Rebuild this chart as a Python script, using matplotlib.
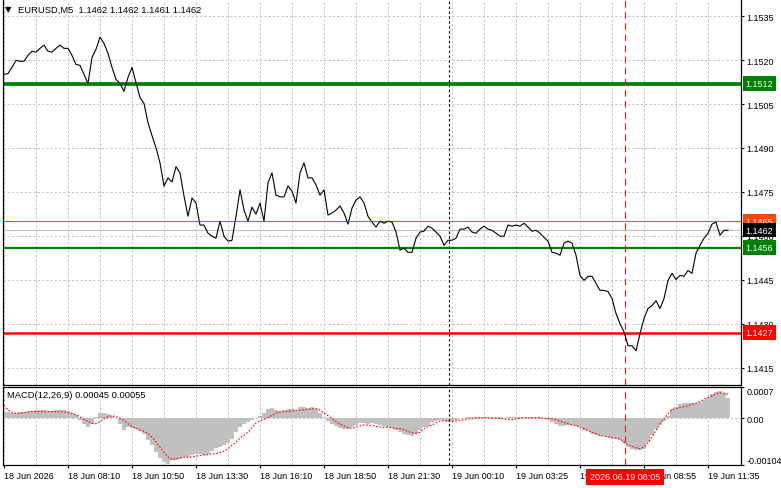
import matplotlib
matplotlib.use('Agg')
import matplotlib.pyplot as plt
import matplotlib.transforms as mtransforms

plt.rcParams['font.family'] = ['Liberation Sans', 'DejaVu Sans']

# EURUSD M5 close, one point every second bar
close = [
    1.15151, 1.15154, 1.15175, 1.15199, 1.15196, 1.15196, 1.15216, 1.15230, 1.15227, 1.15240,
    1.15251, 1.15230, 1.15227, 1.15240, 1.15251, 1.15240, 1.15240, 1.15216, 1.15185, 1.15182,
    1.15151, 1.15120, 1.15209, 1.15237, 1.15278, 1.15257, 1.15223, 1.15175, 1.15134, 1.15120,
    1.15093, 1.15141, 1.15175, 1.15124, 1.15072, 1.15052, 1.14986, 1.14942, 1.14901, 1.14849,
    1.14770, 1.14798, 1.14784, 1.14836, 1.14815, 1.14736, 1.14667, 1.14729, 1.14712, 1.14637,
    1.14637, 1.14609, 1.14599, 1.14592, 1.14650, 1.14599, 1.14582, 1.14585, 1.14667, 1.14757,
    1.14688, 1.14650, 1.14698, 1.14674, 1.14712, 1.14650, 1.14781, 1.14815, 1.14739, 1.14733,
    1.14733, 1.14770, 1.14753, 1.14712, 1.14815, 1.14849, 1.14798, 1.14798, 1.14774, 1.14739,
    1.14757, 1.14671, 1.14678, 1.14688, 1.14702, 1.14678, 1.14640, 1.14695, 1.14722, 1.14733,
    1.14712, 1.14667, 1.14647, 1.14630, 1.14650, 1.14643, 1.14650, 1.14647, 1.14613, 1.14551,
    1.14558, 1.14544, 1.14544, 1.14592, 1.14613, 1.14616, 1.14633, 1.14626, 1.14613, 1.14599,
    1.14568, 1.14585, 1.14585, 1.14592, 1.14623, 1.14623, 1.14630, 1.14613, 1.14609, 1.14623,
    1.14633, 1.14623, 1.14619, 1.14609, 1.14599, 1.14599, 1.14637, 1.14633, 1.14637, 1.14633,
    1.14643, 1.14630, 1.14616, 1.14619, 1.14609, 1.14595, 1.14582, 1.14544, 1.14541, 1.14534,
    1.14575, 1.14582, 1.14575, 1.14534, 1.14465, 1.14448, 1.14462, 1.14462, 1.14438, 1.14414,
    1.14414, 1.14410, 1.14386, 1.14335, 1.14300, 1.14273, 1.14225, 1.14225, 1.14208, 1.14266,
    1.14318, 1.14352, 1.14362, 1.14379, 1.14352, 1.14386, 1.14448, 1.14472, 1.14451, 1.14465,
    1.14462, 1.14482, 1.14472, 1.14541, 1.14568, 1.14592, 1.14609, 1.14640, 1.14647, 1.14602,
    1.14619, 1.14619,
]

# MACD(12,26,9) main (histogram) and signal, in units of 0.00001
macd_main = [
    15, 15, 13, 13, 15, 15, 16, 17, 18, 18,
    18, 17, 17, 18, 18, 19, 17, 13, 7, -3,
    -12, -20, -12, 2, 11, 13, 9, 6, 0, -12,
    -27, -20, -22, -23, -29, -34, -49, -60, -75, -88,
    -97, -101, -93, -93, -90, -86, -86, -82, -79, -79,
    -81, -79, -73, -67, -64, -60, -56, -46, -31, -20,
    -12, -7, -3, 0, 6, 13, 22, 24, 19, 17,
    19, 21, 22, 19, 25, 26, 24, 26, 21, 13,
    2, -5, -12, -16, -22, -23, -23, -20, -15, -10,
    -10, -12, -10, -12, -15, -16, -20, -22, -27, -31,
    -34, -37, -40, -34, -27, -20, -16, -9, -5, -4,
    -5, -7, -5, -3, 0, 0, 2, 3, 4, 4,
    4, 4, 3, 2, 2, 0, 2, 3, 4, 4,
    4, 4, 4, 4, 3, 0, -3, -7, -12, -16,
    -16, -15, -15, -16, -20, -25, -29, -34, -37, -40,
    -40, -42, -43, -46, -49, -54, -64, -69, -71, -71,
    -69, -53, -38, -23, -15, -5, 6, 21, 26, 32,
    34, 34, 34, 35, 37, 41, 46, 54, 59, 61,
    56, 46,
]
macd_signal = [
    29, 19, 13, 11, 12, 13, 14, 15, 15, 15,
    15, 15, 15, 15, 15, 14, 13, 11, 8, 3,
    -2, -7, -11, -12, -7, -1, 4, 6, 4, 0,
    -5, -12, -18, -22, -26, -29, -34, -42, -53, -64,
    -76, -86, -92, -90, -88, -87, -87, -86, -84, -83,
    -81, -81, -79, -79, -76, -73, -68, -60, -53, -44,
    -37, -31, -20, -10, -5, -2, 2, 7, 12, 14,
    15, 15, 17, 18, 18, 19, 20, 21, 22, 18,
    12, 6, 0, -7, -13, -17, -21, -22, -20, -17,
    -15, -15, -16, -18, -19, -20, -20, -21, -23, -23,
    -25, -29, -32, -33, -31, -23, -18, -15, -10, -6,
    -5, -6, -7, -6, -4, -3, -1, -1, 1, 1,
    1, 1, 0, 0, 0, -1, -2, -3, -1, 0,
    1, 1, 1, 1, 1, 0, 0, -1, -3, -6,
    -9, -12, -15, -16, -20, -23, -27, -31, -34, -37,
    -40, -41, -43, -44, -46, -53, -59, -62, -65, -68,
    -64, -54, -42, -27, -12, -1, 10, 19, 22, 24,
    26, 28, 31, 34, 38, 43, 46, 50, 55, 57,
    56, 54,
]

time_labels = ['18 Jun 2026', '18 Jun 08:10', '18 Jun 10:50', '18 Jun 13:30',
               '18 Jun 16:10', '18 Jun 18:50', '18 Jun 21:30', '19 Jun 00:10',
               '19 Jun 03:25', '19 Jun 06:15', '19 Jun 08:55', '19 Jun 11:35']
price_ticks = [1.1535, 1.1520, 1.1505, 1.1490, 1.1475, 1.1460, 1.1445, 1.1430, 1.1415]
macd_ticks = [-0.00104, 0.0, 0.0007]

resistance = 1.1512
support = 1.1456
target_low = 1.1427
ask_price = 1.1465
bid_price = 1.1462
day_break = 111.25      # 19 Jun 00:00
cursor_pos = 155.25     # 2026.06.19 08:05
cursor_label = '2026.06.19 08:05'

W, H = 781, 489
fig = plt.figure(figsize=(W / 100, H / 100), dpi=100)
ax = fig.add_axes([3 / W, 1 - 386 / H, 738 / W, 385 / H])
ax2 = fig.add_axes([3 / W, 1 - 466 / H, 738 / W, 78 / H])

grid_kw = dict(color='#c0c0c0', linestyle=(0, (2.2, 2.2)), linewidth=0.7)
xs = list(range(len(close)))

for a in (ax, ax2):
    a.set_xlim(-0.25, 184.25)
    a.set_xticks(range(0, 177, 16))
    a.set_xticks(range(8, 177, 16), minor=True)
    a.grid(True, axis='x', which='both', **grid_kw)
    a.set_axisbelow(True)
    a.yaxis.tick_right()
    a.tick_params(axis='y', which='both', length=2.5, width=0.8, pad=1.5, labelsize=6.5, colors='black')
    a.tick_params(axis='x', which='minor', length=0)
    for s in a.spines.values():
        s.set_color('black')
        s.set_linewidth(0.9)
    a.axvline(day_break, color='black', linestyle=(0, (2.2, 2.2)), linewidth=0.8, zorder=3)
    a.axvline(cursor_pos, color='#d02020', linestyle=(0, (6, 4)), linewidth=0.8, zorder=3)

# price panel
ax.spines['top'].set_visible(False)
ax.set_ylim(1.14091, 1.15405)
ax.set_yticks(price_ticks)
ax.set_yticklabels([f'{p:.4f}' for p in price_ticks])
ax.grid(True, axis='y', **grid_kw)
ax.tick_params(axis='x', which='major', length=0, labelbottom=False)

ax.axhline(resistance, color='#008000', linewidth=2.7, zorder=2)
ax.axhline(support, color='#008000', linewidth=1.6, zorder=2)
ax.axhline(target_low, color='#ff0000', linewidth=1.8, zorder=2)
ax.axhline(ask_price, color='#ff4500', linewidth=0.7, zorder=2)
ax.axhline(bid_price, color='#c0c0c0', linewidth=0.8, zorder=2)
ax.plot(xs, close, color='black', linewidth=0.8, zorder=4)

tr = mtransforms.blended_transform_factory(ax.transAxes, ax.transData)
for level, bg in [(resistance, '#008000'), (ask_price, '#ff4500'), (bid_price, '#000000'),
                  (support, '#008000'), (target_low, '#ff0000')]:
    ax.text(1.006, level, f'{level:.4f}', transform=tr, fontsize=6.5, color='white',
            ha='left', va='center', clip_on=False, zorder=6,
            bbox=dict(boxstyle='square,pad=0.3', fc=bg, ec='none'))

fig.text(5 / W, 1 - 10 / H, '▼', fontsize=6, family='DejaVu Sans', va='center', ha='left')
fig.text(18 / W, 1 - 10 / H, 'EURUSD,M5  1.1462 1.1462 1.1461 1.1462', fontsize=6.75,
         va='center', ha='left')

# MACD panel
ax2.bar(xs, [v * 1e-5 for v in macd_main], width=1.0, color='#c0c0c0', linewidth=0, zorder=2)
ax2.plot(xs, [v * 1e-5 for v in macd_signal], color='#ff0000', linewidth=0.8,
         linestyle=(0, (1.5, 1.5)), zorder=4)
ax2.axhline(0, **grid_kw, zorder=1)
ax2.set_ylim(-0.00104, 0.0007)
ax2.set_yticks(macd_ticks)
ax2.set_yticklabels(['-0.00104', '0.00', '0.0007'])
ylabels = ax2.get_yticklabels()
ylabels[0].set_va('bottom')
ylabels[2].set_va('top')
ax2.set_xticklabels(time_labels)
ax2.tick_params(axis='x', which='major', length=2.5, width=0.8, pad=2, labelsize=6.5, direction='out')
for lab in ax2.get_xticklabels():
    lab.set_ha('left')
ax2.text(4 / 738, 1 - 8 / 78, 'MACD(12,26,9) 0.00045 0.00055', transform=ax2.transAxes,
         fontsize=6.75, ha='left', va='center')

trx = mtransforms.blended_transform_factory(ax2.transData, ax2.transAxes)
ax2.text(cursor_pos, -12 / 78, cursor_label, transform=trx, fontsize=6.5, color='white',
         ha='center', va='center', clip_on=False, zorder=6,
         bbox=dict(boxstyle='square,pad=0.4', fc='#ff0000', ec='none'))

fig.savefig('out.png', dpi=100)
